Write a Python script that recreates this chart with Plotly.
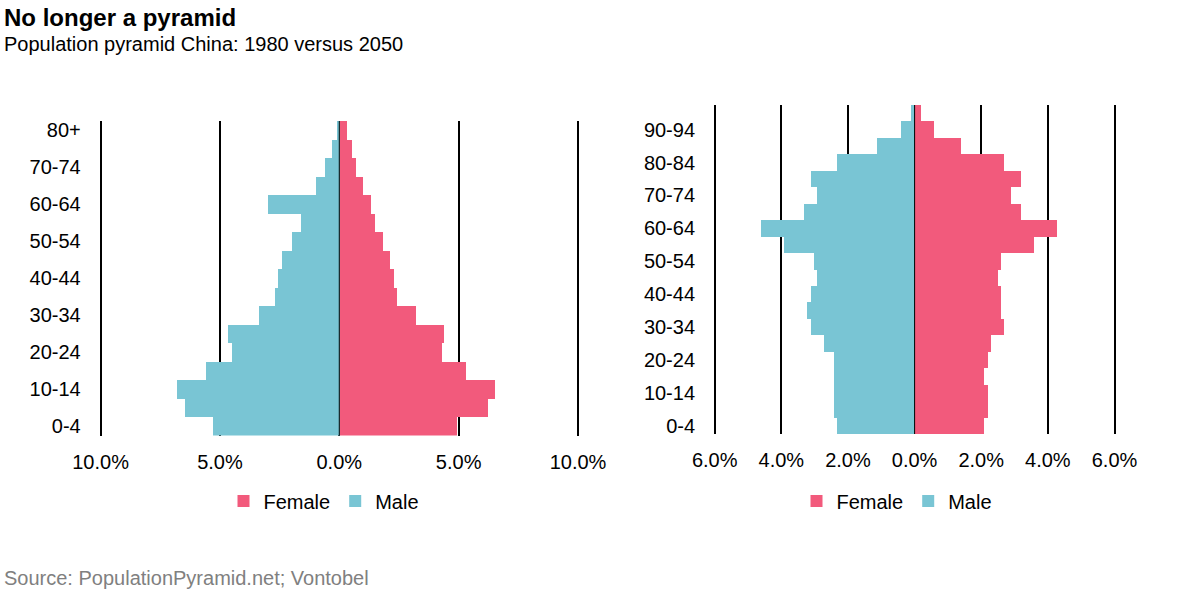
import plotly.graph_objects as go

# Data (percent of total population)
ages_1980 = ["0-4", "5-9", "10-14", "15-19", "20-24", "25-29", "30-34", "35-39",
             "40-44", "45-49", "50-54", "55-59", "60-64", "65-69", "70-74",
             "75-79", "80+"]
male_1980 = [5.30, 6.49, 6.81, 5.60, 4.51, 4.67, 3.37, 2.70, 2.57, 2.41, 1.99,
             1.61, 3.00, 0.98, 0.61, 0.31, 0.10]
female_1980 = [4.90, 6.20, 6.53, 5.30, 4.30, 4.38, 3.21, 2.41, 2.29, 2.12, 1.83,
               1.49, 1.33, 0.99, 0.69, 0.53, 0.32]

ages_2050 = ["0-4", "5-9", "10-14", "15-19", "20-24", "25-29", "30-34", "35-39",
             "40-44", "45-49", "50-54", "55-59", "60-64", "65-69", "70-74",
             "75-79", "80-84", "85-89", "90-94", "95-99"]
male_2050 = [2.33, 2.42, 2.42, 2.42, 2.42, 2.72, 3.11, 3.23, 3.11, 2.93, 3.02,
             3.93, 4.62, 3.32, 2.93, 3.11, 2.33, 1.13, 0.40, 0.10]
female_2050 = [2.09, 2.19, 2.19, 2.09, 2.19, 2.29, 2.68, 2.60, 2.60, 2.49, 2.60,
               3.59, 4.29, 3.20, 2.90, 3.20, 2.68, 1.40, 0.59, 0.20]

ticks_1980 = [-10, -5, 0, 5, 10]
ticks_2050 = [-6, -4, -2, 0, 2, 4, 6]

FEMALE = "#F25A7C"
MALE = "#79C5D4"
FONT = "Liberation Sans, Arial, sans-serif"
W, H = 1181, 591

fig = go.Figure()

fig.add_trace(go.Bar(y=ages_1980, x=female_1980, orientation="h", name="Female",
                     marker=dict(color=FEMALE, line_width=0), xaxis="x", yaxis="y",
                     legend="legend"))
fig.add_trace(go.Bar(y=ages_1980, x=[-v for v in male_1980], orientation="h", name="Male",
                     marker=dict(color=MALE, line_width=0), xaxis="x", yaxis="y",
                     legend="legend"))
fig.add_trace(go.Bar(y=ages_2050, x=female_2050, orientation="h", name="Female",
                     marker=dict(color=FEMALE, line_width=0), xaxis="x2", yaxis="y2",
                     legend="legend2"))
fig.add_trace(go.Bar(y=ages_2050, x=[-v for v in male_2050], orientation="h", name="Male",
                     marker=dict(color=MALE, line_width=0), xaxis="x2", yaxis="y2",
                     legend="legend2"))


def xaxis_style(ticks, left_px, right_px, anchor, pad):
    # widen the range a little so the outer grid lines are not clipped away
    span = ticks[-1] - ticks[0]
    px_per = (right_px - left_px) / span
    domain = [(left_px - pad * px_per) / W, (right_px + pad * px_per) / W]
    return dict(domain=domain, anchor=anchor, range=[ticks[0] - pad, ticks[-1] + pad],
                tickvals=ticks, ticktext=["%.1f%%" % abs(t) for t in ticks],
                showgrid=True, gridcolor="black", gridwidth=2, zeroline=False,
                showline=False, ticks="", ticklabelstandoff=12,
                tickfont=dict(size=20, color="black"), fixedrange=True)


def yaxis_style(ages, domain, anchor):
    return dict(domain=domain, anchor=anchor, type="category",
                categoryorder="array", categoryarray=ages,
                tickvals=ages[::2], showgrid=False, zeroline=False, showline=False,
                ticks="", ticklabelstandoff=16,
                tickfont=dict(size=20, color="black"), fixedrange=True)


fig.update_layout(
    width=W, height=H,
    margin=dict(l=0, r=0, t=0, b=0, autoexpand=False),
    template="none",
    paper_bgcolor="white", plot_bgcolor="white",
    font=dict(family=FONT, color="black"),
    barmode="relative", bargap=0,
    xaxis=xaxis_style(ticks_1980, 100.6, 578, "y", 0.12),
    yaxis=yaxis_style(ages_1980, [1 - 435.5 / H, 1 - 121 / H], "x"),
    xaxis2=xaxis_style(ticks_2050, 714.7, 1114.5, "y2", 0.08),
    yaxis2=yaxis_style(ages_2050, [1 - 434 / H, 1 - 105 / H], "x2"),
    legend=dict(orientation="h", x=324 / W, y=1 - 501 / H, xanchor="center", yanchor="middle",
                font=dict(size=20), itemwidth=30, traceorder="normal", bgcolor="rgba(0,0,0,0)"),
    legend2=dict(orientation="h", x=897 / W, y=1 - 501 / H, xanchor="center", yanchor="middle",
                 font=dict(size=20), itemwidth=30, traceorder="normal", bgcolor="rgba(0,0,0,0)"),
    showlegend=True,
)

# thin zero lines drawn over the bars
for xr, yr in [("x", "y domain"), ("x2", "y2 domain")]:
    fig.add_shape(type="line", xref=xr, yref=yr, x0=0, x1=0, y0=0, y1=1,
                  line=dict(color="black", width=1), layer="above")

fig.add_annotation(text="<b>No longer a pyramid</b>", xref="paper", yref="paper",
                   x=2 / W, y=1 - 17 / H, xanchor="left", yanchor="middle",
                   showarrow=False, font=dict(size=24, color="black"))
fig.add_annotation(text="Population pyramid China: 1980 versus 2050", xref="paper", yref="paper",
                   x=2 / W, y=1 - 44 / H, xanchor="left", yanchor="middle",
                   showarrow=False, font=dict(size=20, color="black"))
fig.add_annotation(text="Source: PopulationPyramid.net; Vontobel", xref="paper", yref="paper",
                   x=2 / W, y=1 - 578 / H, xanchor="left", yanchor="middle",
                   showarrow=False, font=dict(size=20, color="#808080"))

# the page body has a default 8px margin; drop it so the figure fills the window
fig.write_html("out.html", config={"displayModeBar": False},
               post_script="document.body.style.margin = '0px';")
